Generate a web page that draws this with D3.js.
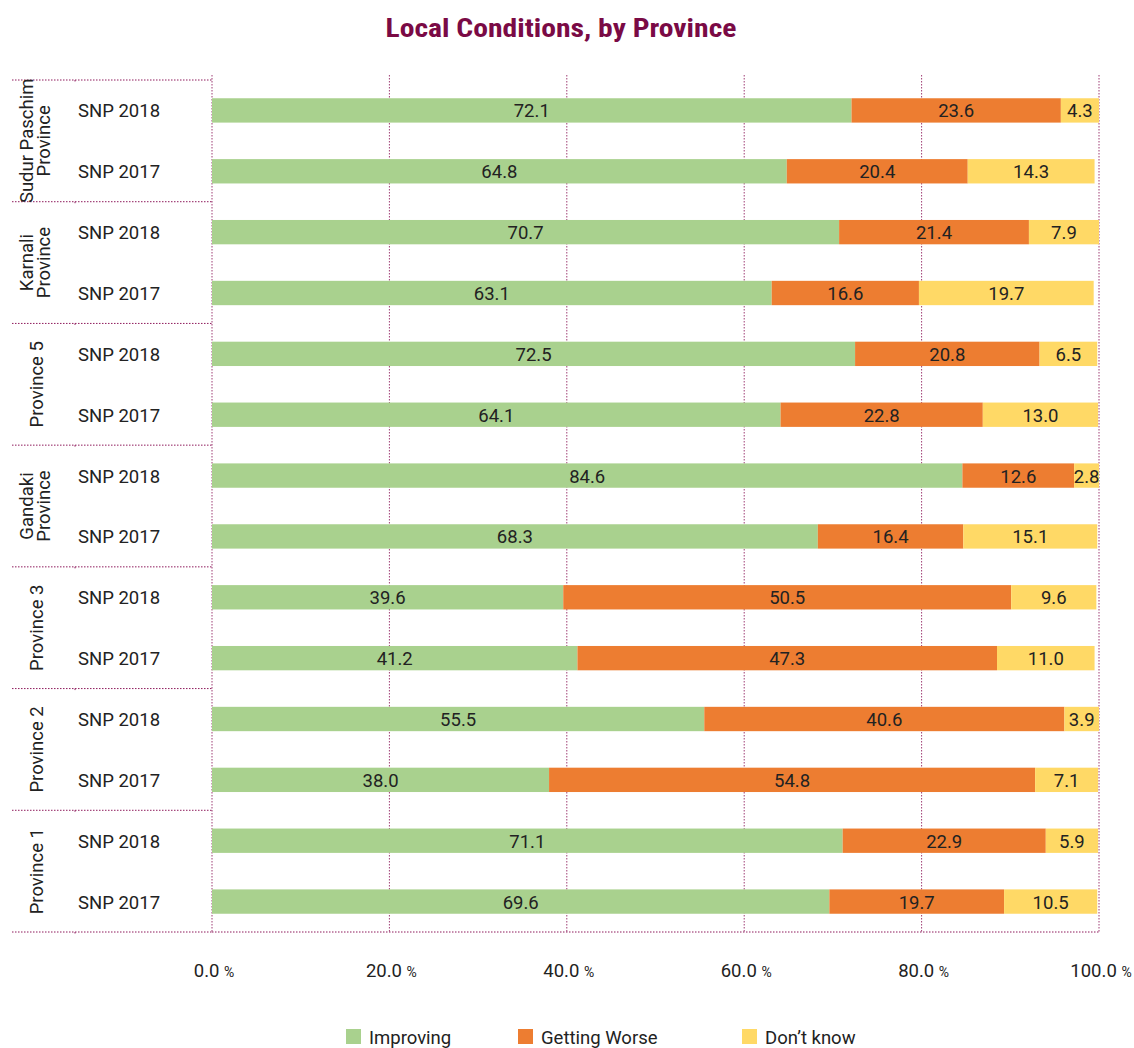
<!DOCTYPE html>
<html><head><meta charset="utf-8">
<script src="https://cdn.jsdelivr.net/npm/d3@7"></script>
<style>body{margin:0;background:#fff}svg{display:block}text{font-family:Roboto,"Liberation Sans",sans-serif}</style>
</head><body><div id="chart"></div>
<script>
const provinces = ["Sudur Paschim Province","Karnali Province","Province 5","Gandaki Province","Province 3","Province 2","Province 1"];
const provinceLines = [["Sudur Paschim","Province"],["Karnali","Province"],["Province 5"],["Gandaki","Province"],["Province 3"],["Province 2"],["Province 1"]];
const years = ["SNP 2018","SNP 2017"];
const seriesNames = ["Improving","Getting Worse","Don’t know"];
const improving = [72.1,64.8, 70.7,63.1, 72.5,64.1, 84.6,68.3, 39.6,41.2, 55.5,38.0, 71.1,69.6];
const gettingWorse = [23.6,20.4, 21.4,16.6, 20.8,22.8, 12.6,16.4, 50.5,47.3, 40.6,54.8, 22.9,19.7];
const dontKnow = [4.3,14.3, 7.9,19.7, 6.5,13.0, 2.8,15.1, 9.6,11.0, 3.9,7.1, 5.9,10.5];
const tickValues = [0,20,40,60,80,100];
const colors = ["#a9d18e","#ed7d31","#ffd966"];
const lineColor = "#8e1b5c";

(function(){
const W=1134,H=1048;
const svg=d3.select("#chart").append("svg").attr("width",W).attr("height",H);
const mLeft=212,mRight=1099,mTop=80,mBottom=932;
const fs=18.5, txt="#222";

const rows=[];
provinces.forEach((p,i)=>years.forEach((y,j)=>{const k=i*2+j;rows.push({key:p+"|"+y,prov:p,year:y,vals:[improving[k],gettingWorse[k],dontKnow[k]]});}));

const x=d3.scaleLinear().domain([0,100]).range([mLeft,mRight]);
const yG=d3.scaleBand().domain(provinces).range([mTop,mBottom]);
const y=d3.scaleBand().domain(rows.map(r=>r.key)).range([mTop,mBottom]).paddingInner(0.6).paddingOuter(0.3);

svg.append("text").attr("x",561).attr("y",37).attr("text-anchor","middle")
  .attr("font-size",25).attr("font-weight","bold").attr("fill","#7a0a45")
  .attr("textLength",351).attr("lengthAdjust","spacingAndGlyphs")
  .style("font-family","'Roboto Condensed',Roboto,sans-serif").text("Local Conditions, by Province");

const dash="1.5,1.5";
svg.append("g").selectAll("line").data(tickValues).join("line")
  .attr("x1",d=>x(d)).attr("x2",d=>x(d)).attr("y1",mTop-5).attr("y2",mBottom)
  .attr("stroke",lineColor).attr("stroke-opacity",0.85).attr("stroke-width",1).attr("stroke-dasharray",dash);
svg.append("line").attr("x1",mLeft).attr("x2",mRight).attr("y1",mBottom).attr("y2",mBottom)
  .attr("stroke",lineColor).attr("stroke-dasharray",dash);
const seps=provinces.map(p=>yG(p)).concat([mBottom]);
svg.append("g").selectAll("line").data(seps).join("line")
  .attr("x1",12).attr("x2",mLeft).attr("y1",d=>d).attr("y2",d=>d)
  .attr("stroke",lineColor).attr("stroke-dasharray",dash);
svg.append("g").selectAll("line").data(seps).join("line")
  .attr("x1",75).attr("x2",75).attr("y1",d=>d).attr("y2",d=>d+3)
  .attr("stroke",lineColor).attr("stroke-dasharray",dash);

const stack=rows.map(r=>{let c=0;return r.vals.map((v,i)=>{const s={row:r,i,v,x0:c,x1:c+v};c+=v;return s;});}).flat();
const g=svg.append("g");
g.selectAll("rect").data(stack).join("rect")
  .attr("x",d=>x(d.x0)).attr("width",d=>x(d.x1)-x(d.x0))
  .attr("y",d=>y(d.row.key)).attr("height",y.bandwidth()).attr("fill",d=>colors[d.i]);
g.selectAll("text").data(stack).join("text")
  .attr("x",d=>(x(d.x0)+x(d.x1))/2).attr("y",d=>y(d.row.key)+y.bandwidth()/2+7)
  .attr("text-anchor","middle").attr("font-size",fs).attr("fill",txt).text(d=>d.v.toFixed(1));

svg.append("g").selectAll("text").data(rows).join("text")
  .attr("x",78).attr("y",d=>y(d.key)+y.bandwidth()/2+7).attr("font-size",fs).attr("fill",txt).text(d=>d.year);
provinces.forEach((p,i)=>{
  const cy=yG(p)+yG.bandwidth()/2;
  const lines=provinceLines[i];
  const t=svg.append("text").attr("transform",`translate(${lines.length>1?33:43},${cy}) rotate(-90)`)
    .attr("text-anchor","middle").attr("font-size",fs).attr("fill",txt);
  lines.forEach((l,j)=>t.append("tspan").attr("x",0).attr("dy",j===0?0:16.5).text(l));
});

const tl=svg.append("g").selectAll("text").data(tickValues).join("text")
  .attr("x",d=>x(d)+2).attr("y",977).attr("text-anchor","middle").attr("font-size",fs).attr("fill",txt);
tl.append("tspan").text(d=>d.toFixed(1)+" ");
tl.append("tspan").attr("font-size",14).text("%");

const legX=[346,518,742];
const lg=svg.append("g").selectAll("g").data(seriesNames).join("g").attr("transform",(d,i)=>`translate(${legX[i]},1029)`);
lg.append("rect").attr("width",15).attr("height",15).attr("fill",(d,i)=>colors[i]);
lg.append("text").attr("x",23).attr("y",15).attr("font-size",fs).attr("fill",txt).text(d=>d);
})();
</script></body></html>
